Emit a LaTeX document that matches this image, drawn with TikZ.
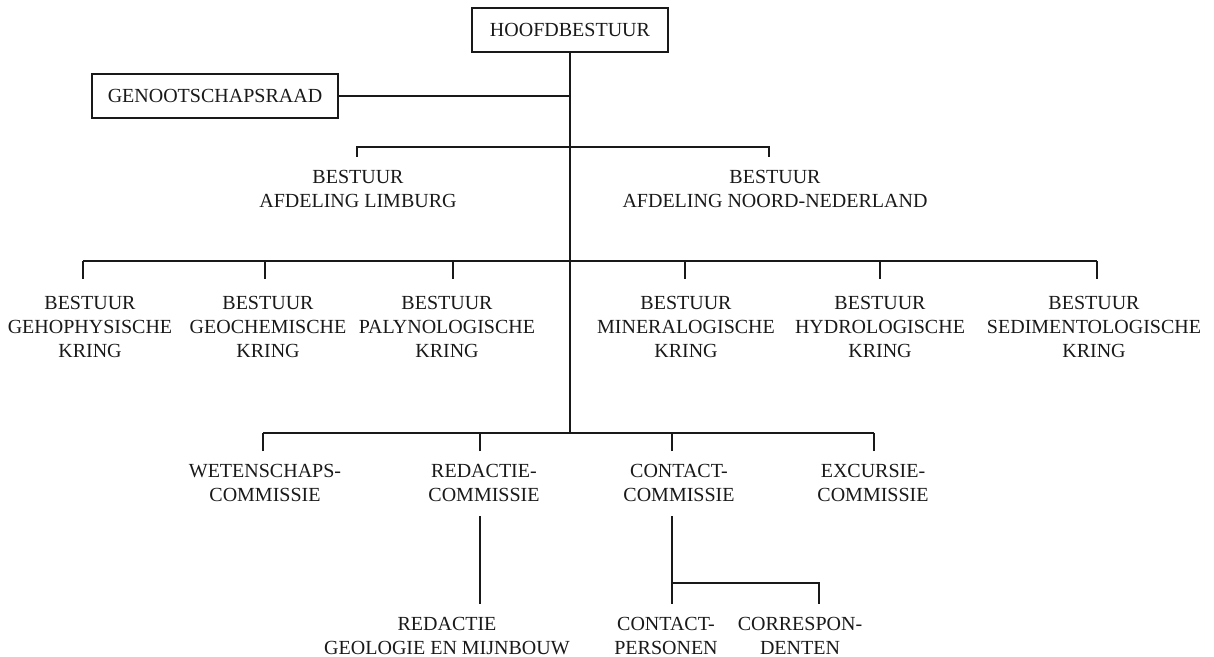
\documentclass[tikz,border=0pt]{standalone}
\usepackage{fontspec}
\setmainfont{Liberation Serif}

\begin{document}
\begin{tikzpicture}
  [x=0.5pt,y=-0.5pt,line width=0.8pt,color=black!90,
   box/.style={draw,minimum width=98pt,minimum height=22pt,inner sep=0pt,
     font=\fontsize{10}{12}\selectfont},
   txt/.style={anchor=north,align=center,inner sep=0pt,
     font=\fontsize{10}{12}\selectfont}]
  \useasboundingbox (0,0) rectangle (1214,657);

  \node[box] (hb) at (570,30) {HOOFDBESTUUR};
  \node[box,minimum width=123pt] (gr) at (215,96) {GENOOTSCHAPSRAAD};

  \node[txt] (limb) at (358,169) {BESTUUR\\AFDELING LIMBURG};
  \node[txt] (noord) at (775,169) {BESTUUR\\AFDELING NOORD-NEDERLAND};

  \node[txt] (k1) at (90,295) {BESTUUR\\GEHOPHYSISCHE\\KRING};
  \node[txt] (k2) at (268,295) {BESTUUR\\GEOCHEMISCHE\\KRING};
  \node[txt] (k3) at (447,295) {BESTUUR\\PALYNOLOGISCHE\\KRING};
  \node[txt] (k4) at (686,295) {BESTUUR\\MINERALOGISCHE\\KRING};
  \node[txt] (k5) at (880,295) {BESTUUR\\HYDROLOGISCHE\\KRING};
  \node[txt] (k6) at (1094,295) {BESTUUR\\SEDIMENTOLOGISCHE\\KRING};

  \node[txt] (c1) at (265,463) {WETENSCHAPS-\\COMMISSIE};
  \node[txt] (c2) at (484,463) {REDACTIE-\\COMMISSIE};
  \node[txt] (c3) at (679,463) {CONTACT-\\COMMISSIE};
  \node[txt] (c4) at (873,463) {EXCURSIE-\\COMMISSIE};

  \node[txt] (red) at (447,616) {REDACTIE\\GEOLOGIE EN MIJNBOUW};
  \node[txt] (cp) at (666,616) {CONTACT-\\PERSONEN};
  \node[txt] (corr) at (800,616) {CORRESPON-\\DENTEN};

  % junctions on the main line
  \coordinate (j1) at (570,96);
  \coordinate (j2) at (570,147);
  \coordinate (j3) at (570,261);
  \coordinate (j4) at (570,433);

  \draw (hb) -- (j4);
  \draw (gr) -- (j1);

  % afdelingen
  \coordinate (la) at (357,157);
  \coordinate (na) at (769,157);
  \draw (la) |- (j2) -| (na);

  % kringen
  \foreach \d [count=\i] in {83,265,453,685,880,1097}
    \coordinate (kd\i) at (\d,279);
  \foreach \i in {1,...,6}
    \draw (kd\i) -- (kd\i |- j3);
  \draw (kd1 |- j3) -- (kd6 |- j3);

  % commissies
  \foreach \d [count=\i] in {263,480,672,874}
    \coordinate (cd\i) at (\d,451);
  \foreach \i in {1,...,4}
    \draw (cd\i) -- (cd\i |- j4);
  \draw (cd1 |- j4) -- (cd4 |- j4);

  % onder redactie en contact
  \coordinate (rt) at (480,516);
  \coordinate (rb) at (480,604);
  \coordinate (ct) at (672,516);
  \coordinate (cb) at (672,604);
  \coordinate (cj) at (672,583);
  \coordinate (cr) at (819,604);
  \draw (rt) -- (rb);
  \draw (ct) -- (cb);
  \draw (cj) -| (cr);
\end{tikzpicture}
\end{document}
